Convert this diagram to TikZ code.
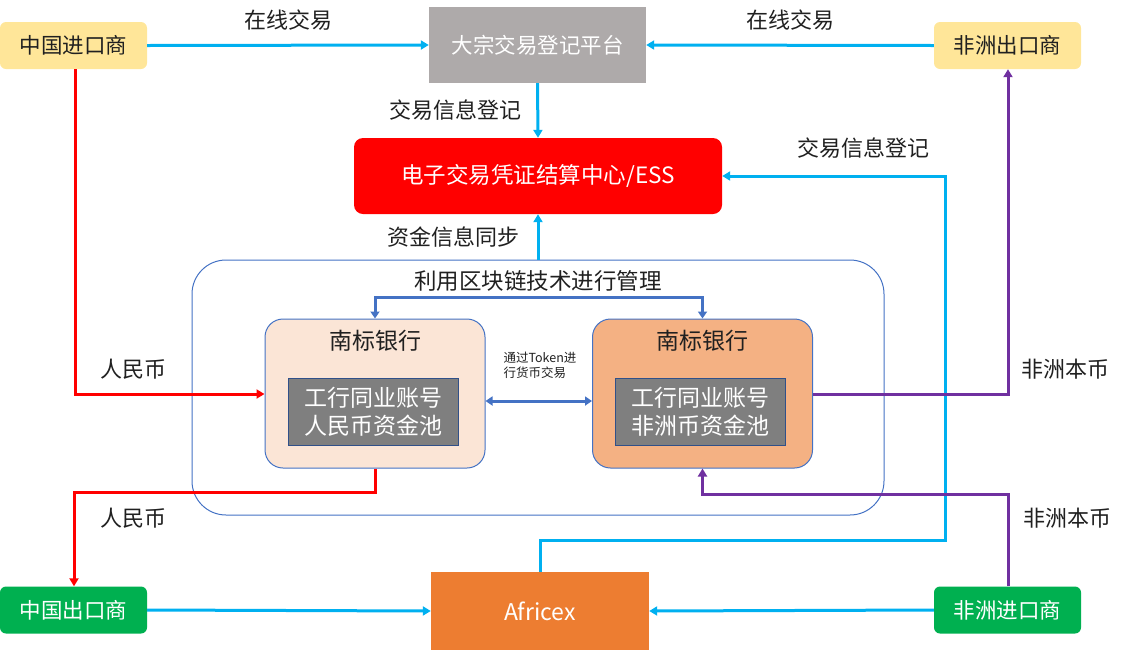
\documentclass[tikz,border=0pt]{standalone}
\usepackage{fontspec}
\setmainfont{Noto Sans CJK SC}
\usetikzlibrary{arrows.meta}
\definecolor{cyanline}{HTML}{00B0F0}
\definecolor{redline}{HTML}{FF0000}
\definecolor{purpline}{HTML}{7030A0}
\definecolor{bluebd}{HTML}{4472C4}
\definecolor{yellowfill}{HTML}{FFE699}
\definecolor{grayplat}{HTML}{AEAAAA}
\definecolor{greenfill}{HTML}{00B050}
\definecolor{orangefill}{HTML}{ED7D31}
\definecolor{bankL}{HTML}{FBE5D6}
\definecolor{bankR}{HTML}{F4B183}
\definecolor{poolfill}{HTML}{7F7F7F}
\definecolor{txt}{HTML}{202020}
\tikzset{
  fs/.style={font=\pgfmathsetmacro\mybls{#1*1.2}\fontsize{#1}{\mybls}\selectfont},
  party/.style={rounded corners=6pt, minimum width=147pt, minimum height=47pt, inner sep=0pt, fs=21.5},
  conn/.style={line width=3pt, -{Triangle[length=8pt,width=9pt]}},
  lbl/.style={fs=22, inner sep=0pt, text=txt},
  bankbox/.style={draw=bluebd, line width=1pt, rounded corners=18pt, minimum width=220pt, minimum height=149pt, inner sep=0pt},
  poolbox/.style={draw=bluebd!70!black, fill=poolfill, line width=1pt, minimum width=170pt, minimum height=67pt, inner sep=0pt, text=white, align=center, fs=23},
}
\begin{document}
\begin{tikzpicture}[x=1pt,y=-1pt]
\useasboundingbox (0,0) rectangle (1128,649);
% nodes
\node[party, fill=yellowfill, text=txt] (cnimp) at (73.5,45.5) {中国进口商};
\node[party, fill=yellowfill, text=txt] (afexp) at (1007.5,45.5) {非洲出口商};
\node[fill=grayplat, minimum width=217pt, minimum height=76pt, inner sep=0pt, text=white, fs=21.5] (plat) at (537.5,45) {大宗交易登记平台};
\node[fill=redline, rounded corners=9pt, minimum width=368pt, minimum height=76pt, inner sep=0pt, text=white, fs=22.5] (ess) at (538,176) {电子交易凭证结算中心/ESS};
\node[draw=bluebd, line width=1pt, rounded corners=34pt, minimum width=692pt, minimum height=255pt, inner sep=0pt] (cont) at (538,387.5) {};
\node[lbl, fs=22.5] (chain) at (538,281) {利用区块链技术进行管理};
\node[bankbox, fill=bankL] (bankl) at (375,393.5) {};
\node[bankbox, fill=bankR] (bankr) at (702.5,393.5) {};
\node[lbl, fs=23] (bankltitle) at (375,341) {南标银行};
\node[lbl, fs=23] (bankrtitle) at (702.5,341) {南标银行};
\node[poolbox] (pooll) at (373,411.5) {工行同业账号\\人民币资金池};
\node[poolbox] (poolr) at (700.5,411.5) {工行同业账号\\非洲币资金池};
\node[fs=12.5, inner sep=0pt, align=left, text=txt] (token) at (540,365) {通过Token进\\行货币交易};
\node[party, fill=greenfill, text=white] (cnexp) at (73.5,610) {中国出口商};
\node[party, fill=greenfill, text=white] (afimp) at (1007.5,610) {非洲进口商};
\node[fill=orangefill, minimum width=218pt, minimum height=78pt, inner sep=0pt, text=white, fs=23] (africex) at (540,611) {Africex};
% turning points
\coordinate (bracketL) at (375,297);
\coordinate (bracketR) at (702.5,297);
\coordinate (essin) at (945,176);
\coordinate (afxup) at (540,540);
\coordinate (afxright) at (945,540);
\coordinate (redA) at (75,394);
\coordinate (redB1) at (375,492);
\coordinate (redB2) at (74,492);
\coordinate (purA) at (1008,394);
\coordinate (purB1) at (1008,494);
\coordinate (purB2) at (702.5,494);
% connectors
\draw[conn, cyanline] (cnimp.east) -- (plat.west) node[lbl, midway, above=13pt] (l1) {在线交易};
\draw[conn, cyanline] (afexp.west) -- (plat.east) node[lbl, midway, above=13pt] (l2) {在线交易};
\draw[conn, cyanline] (plat.south) -- (ess.north);
\node[lbl] (l3) at (455,110) {交易信息登记};
\draw[conn, cyanline] (cont.north) -- (ess.south);
\node[lbl] (l4) at (453,237) {资金信息同步};
\draw[conn, cyanline] (africex.north) -- (afxup) -- (afxright) -- (essin) -- (ess.east);
\node[lbl] (l5) at (863,148) {交易信息登记};
\draw[conn, cyanline] (cnexp.east) -- (africex.west);
\draw[conn, cyanline] (afimp.west) -- (africex.east);
\draw[conn, redline] (cnimp.south -| redA) -- (redA) -- (bankl.west |- redA);
\node[lbl] (l6) at (133,369) {人民币};
\draw[conn, redline] (bankl.south) -- (redB1) -- (redB2) -- (cnexp.north -| redB2);
\node[lbl] (l7) at (133,518) {人民币};
\draw[conn, purpline] (bankr.east |- purA) -- (purA) -- (afexp.south -| purA);
\node[lbl] (l8) at (1065,369) {非洲本币};
\draw[conn, purpline] (afimp.north -| purB1) -- (purB1) -- (purB2) -- (bankr.south);
\node[lbl] (l9) at (1067,518) {非洲本币};
\draw[line width=3pt, bluebd, {Triangle[length=7pt,width=9pt]}-{Triangle[length=7pt,width=9pt]}] (bankl.north) -- (bracketL) -- (bracketR) -- (bankr.north);
\draw[line width=3pt, bluebd, {Triangle[length=7pt,width=9pt]}-{Triangle[length=7pt,width=9pt]}] (bankl.east |- 0,401) -- (bankr.west |- 0,401);
\end{tikzpicture}
\end{document}
